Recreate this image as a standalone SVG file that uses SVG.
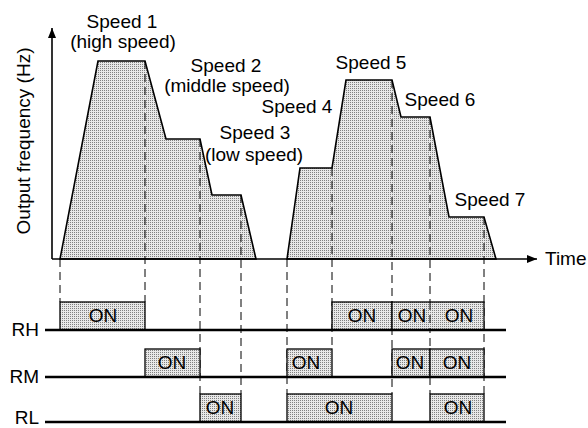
<svg xmlns="http://www.w3.org/2000/svg" width="588" height="428" viewBox="0 0 588 428">
<defs>
<pattern id="dots" width="2" height="2" patternUnits="userSpaceOnUse">
<rect width="2" height="2" fill="#e8e8e8"/>
<rect width="1" height="1" fill="#808080"/>
</pattern>
<marker id="arr" markerWidth="10" markerHeight="8" refX="10" refY="4" orient="auto" markerUnits="userSpaceOnUse">
<path d="M0,0 L10,4 L0,8 Z" fill="#000"/>
</marker>
<style>
text{font-family:"Liberation Sans",Arial,sans-serif;font-size:19px;fill:#000}
.c{text-anchor:middle}
.r{text-anchor:end}
.prof{fill:url(#dots);stroke:#000;stroke-width:1.6;stroke-linejoin:miter}
.box{fill:url(#dots);stroke:#000;stroke-width:1.3}
.dash{stroke:#000;stroke-width:1;stroke-dasharray:8,5;fill:none}
.sig{stroke:#000;stroke-width:2.6}
.axis{stroke:#000;stroke-width:1.6;fill:none}
</style>
</defs>
<rect width="588" height="428" fill="#fff"/>

<g id="profile">
<path class="prof" d="M60,259 L98,61 L145,61 L166,139 L200,139 L212,195 L241,195 L256,259 Z"/>
<path class="prof" d="M287,259 L300,168 L332,168 L346,80 L392,80 L401,117 L430,117 L449,217 L484,217 L496,259 Z"/>
</g>

<g id="axes">
<line class="axis" x1="52" y1="259" x2="52" y2="28" marker-end="url(#arr)"/>
<line class="axis" x1="52" y1="259" x2="537" y2="259" marker-end="url(#arr)"/>
<text x="545" y="265">Time</text>
<text transform="translate(30,141) rotate(-90)" class="c">Output frequency (Hz)</text>
</g>

<g id="connectors">
<line class="dash" x1="60" y1="259" x2="60" y2="302"/>
<line class="dash" x1="145" y1="61" x2="145" y2="302"/>
<line class="dash" x1="200" y1="139" x2="200" y2="394"/>
<line class="dash" x1="241" y1="195" x2="241" y2="394"/>
<line class="dash" x1="287" y1="259" x2="287" y2="394"/>
<line class="dash" x1="332" y1="168" x2="332" y2="349"/>
<line class="dash" x1="392" y1="80" x2="392" y2="394"/>
<line class="dash" x1="430" y1="117" x2="430" y2="394"/>
<line class="dash" x1="484" y1="217" x2="484" y2="394"/>
</g>

<g id="speed-labels">
<text class="c" x="122" y="28">Speed 1</text>
<text class="c" x="123" y="48">(high speed)</text>
<text class="c" x="226" y="72">Speed 2</text>
<text class="c" x="227" y="92">(middle speed)</text>
<text class="c" x="297" y="113">Speed 4</text>
<text class="c" x="255" y="139">Speed 3</text>
<text class="c" x="254" y="161">(low speed)</text>
<text class="c" x="371" y="69">Speed 5</text>
<text class="c" x="440" y="106">Speed 6</text>
<text class="c" x="490" y="206">Speed 7</text>
</g>

<g id="rh-boxes">
<rect class="box" x="60" y="302" width="85" height="28"/>
<rect class="box" x="332" y="302" width="60" height="28"/>
<rect class="box" x="392" y="302" width="92" height="28"/>
<line class="dash" x1="430" y1="302" x2="430" y2="330"/>
<text class="c" x="103" y="322">ON</text>
<text class="c" x="362" y="322">ON</text>
<text class="c" x="412" y="322">ON</text>
<text class="c" x="459" y="322">ON</text>
</g>

<g id="rm-boxes">
<rect class="box" x="145" y="349" width="55" height="28"/>
<rect class="box" x="287" y="349" width="45" height="28"/>
<rect class="box" x="392" y="349" width="38" height="28"/>
<rect class="box" x="430" y="349" width="54" height="28"/>
<text class="c" x="172" y="369">ON</text>
<text class="c" x="306" y="369">ON</text>
<text class="c" x="410" y="369">ON</text>
<text class="c" x="457" y="369">ON</text>
</g>

<g id="rl-boxes">
<rect class="box" x="200" y="394" width="41" height="28"/>
<rect class="box" x="287" y="394" width="105" height="28"/>
<rect class="box" x="430" y="394" width="54" height="28"/>
<text class="c" x="220" y="414">ON</text>
<text class="c" x="339" y="414">ON</text>
<text class="c" x="458" y="414">ON</text>
</g>

<g id="signal-RH">
<line class="sig" x1="45" y1="330" x2="506" y2="330"/>
<text class="r" x="39" y="336">RH</text>
</g>
<g id="signal-RM">
<line class="sig" x1="45" y1="377" x2="506" y2="377"/>
<text class="r" x="39" y="383">RM</text>
</g>
<g id="signal-RL">
<line class="sig" x1="45" y1="422" x2="506" y2="422"/>
<text class="r" x="39" y="424">RL</text>
</g>
</svg>
